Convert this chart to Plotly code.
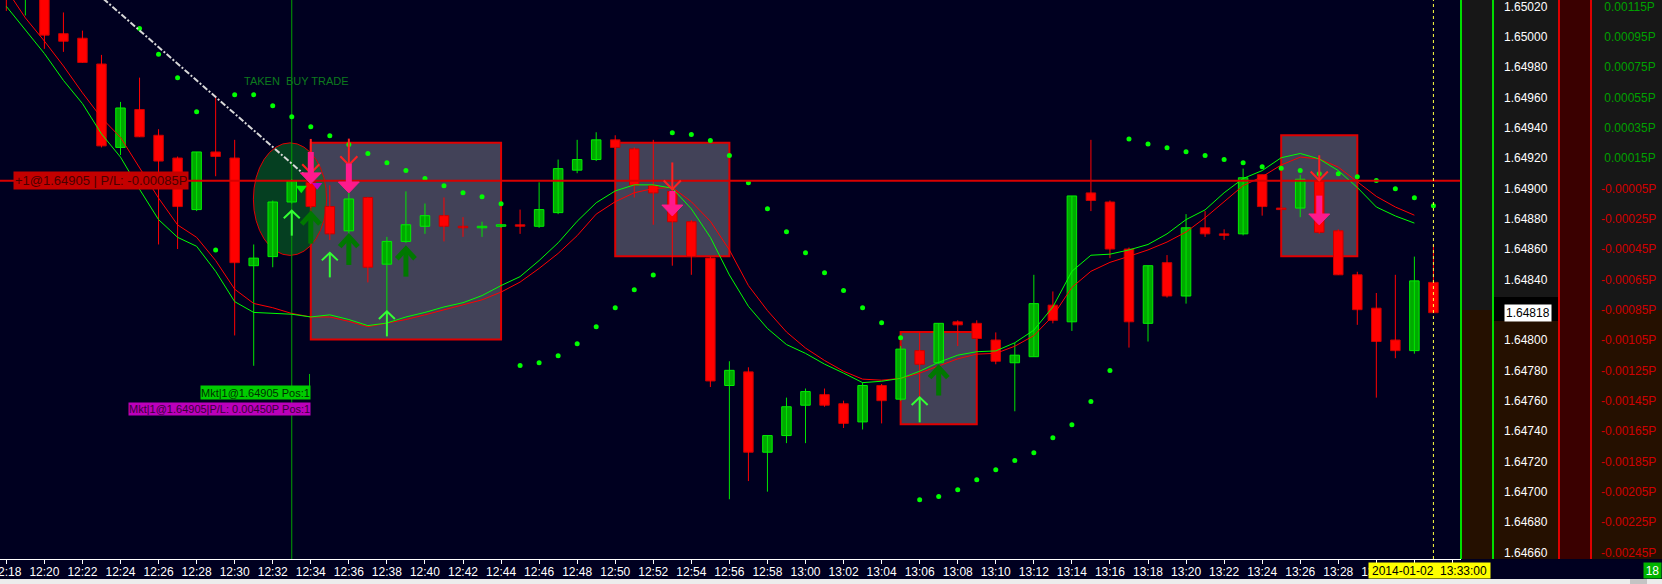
import pandas as pd
import plotly.graph_objects as go

DAY = "2014-01-02"
times = pd.date_range(f"{DAY} 12:18", periods=76, freq="min")

open_ = [1.65070, 1.65028, 1.65040, 1.65002, 1.64999, 1.64982, 1.64927, 1.64952, 1.64935, 1.64920,
         1.64886, 1.64924, 1.64920, 1.64849, 1.64855, 1.64891, 1.64904, 1.64888, 1.64872, 1.64894,
         1.64850, 1.64865, 1.64875, 1.64882, 1.64875, 1.64874, 1.64875, 1.64876, 1.64875, 1.64884,
         1.64912, 1.64919, 1.64932, 1.64926, 1.64902, 1.64898, 1.64878, 1.64854, 1.64770, 1.64779,
         1.64726, 1.64737, 1.64757, 1.64764, 1.64758, 1.64746, 1.64770, 1.64761, 1.64793, 1.64785,
         1.64812, 1.64811, 1.64800, 1.64785, 1.64789, 1.64823, 1.64812, 1.64897, 1.64891, 1.64860,
         1.64811, 1.64851, 1.64829, 1.64874, 1.64870, 1.64870, 1.64909, 1.64887, 1.64887, 1.64905,
         1.64872, 1.64843, 1.64821, 1.64800, 1.64793, 1.64838]
high = [1.65080, 1.65050, 1.65045, 1.65016, 1.65004, 1.64988, 1.64957, 1.64973, 1.64939, 1.64921,
        1.64924, 1.64961, 1.64932, 1.64863, 1.64892, 1.64906, 1.64906, 1.64902, 1.64897, 1.64894,
        1.64868, 1.64898, 1.64890, 1.64894, 1.64881, 1.64878, 1.64876, 1.64886, 1.64904, 1.64919,
        1.64932, 1.64937, 1.64935, 1.64927, 1.64932, 1.64900, 1.64879, 1.64855, 1.64786, 1.64782,
        1.64737, 1.64762, 1.64768, 1.64768, 1.64760, 1.64772, 1.64771, 1.64796, 1.64805, 1.64811,
        1.64813, 1.64813, 1.64805, 1.64798, 1.64843, 1.64832, 1.64895, 1.64932, 1.64892, 1.64861,
        1.64849, 1.64856, 1.64883, 1.64885, 1.64873, 1.64913, 1.64909, 1.64887, 1.64909, 1.64906,
        1.64873, 1.64845, 1.64831, 1.64843, 1.64855, 1.64863]
low = [1.65017, 1.65014, 1.64992, 1.64990, 1.64983, 1.64927, 1.64922, 1.64934, 1.64863, 1.64860,
       1.64885, 1.64908, 1.64803, 1.64783, 1.64848, 1.64890, 1.64887, 1.64866, 1.64870, 1.64838,
       1.64819, 1.64864, 1.64870, 1.64865, 1.64868, 1.64868, 1.64874, 1.64870, 1.64874, 1.64883,
       1.64910, 1.64918, 1.64926, 1.64894, 1.64876, 1.64849, 1.64843, 1.64769, 1.64695, 1.64707,
       1.64700, 1.64732, 1.64732, 1.64756, 1.64742, 1.64741, 1.64745, 1.64760, 1.64762, 1.64784,
       1.64796, 1.64801, 1.64784, 1.64753, 1.64789, 1.64811, 1.64806, 1.64885, 1.64854, 1.64795,
       1.64799, 1.64828, 1.64824, 1.64868, 1.64866, 1.64869, 1.64882, 1.64886, 1.64881, 1.64870,
       1.64843, 1.64810, 1.64762, 1.64788, 1.64791, 1.64818]
close = [1.65030, 1.65045, 1.65001, 1.64997, 1.64983, 1.64928, 1.64953, 1.64934, 1.64918, 1.64888,
         1.64924, 1.64921, 1.64851, 1.64854, 1.64891, 1.64905, 1.64888, 1.64870, 1.64893, 1.64848,
         1.64865, 1.64876, 1.64882, 1.64875, 1.64874, 1.64875, 1.64876, 1.64875, 1.64886, 1.64913,
         1.64919, 1.64932, 1.64927, 1.64902, 1.64897, 1.64878, 1.64855, 1.64773, 1.64780, 1.64726,
         1.64737, 1.64756, 1.64766, 1.64757, 1.64745, 1.64770, 1.64760, 1.64794, 1.64784, 1.64811,
         1.64810, 1.64801, 1.64786, 1.64790, 1.64824, 1.64813, 1.64895, 1.64892, 1.64860, 1.64812,
         1.64849, 1.64829, 1.64874, 1.64870, 1.64869, 1.64907, 1.64888, 1.64886, 1.64906, 1.64871,
         1.64843, 1.64820, 1.64799, 1.64793, 1.64839, 1.64818]

ma_fast = [1.650200, 1.650042, 1.649889, 1.649712, 1.649559, 1.649359, 1.649206, 1.648994, 1.648794, 1.648677,
           1.648618, 1.648453, 1.648253, 1.648182, 1.648175, 1.648170, 1.648152, 1.648166, 1.648135, 1.648095,
           1.648112, 1.648152, 1.648182, 1.648218, 1.648246, 1.648293, 1.648359, 1.648418, 1.648524, 1.648641,
           1.648783, 1.648905, 1.648983, 1.649023, 1.649023, 1.649001, 1.648865, 1.648677, 1.648429, 1.648222,
           1.648076, 1.647970, 1.647912, 1.647841, 1.647782, 1.647719, 1.647728, 1.647747, 1.647794, 1.647853,
           1.647900, 1.647923, 1.647928, 1.647982, 1.648065, 1.648218, 1.648453, 1.648559, 1.648566, 1.648594,
           1.648630, 1.648700, 1.648794, 1.648858, 1.648971, 1.649065, 1.649117, 1.649202, 1.649230, 1.649194,
           1.649117, 1.649006, 1.648877, 1.648818, 1.648771, None]
ma_slow = [1.650313, 1.650124, 1.649971, 1.649807, 1.649630, 1.649465, 1.649336, 1.649136, 1.648936, 1.648759,
           1.648677, 1.648524, 1.648335, 1.648241, 1.648213, 1.648175, 1.648152, 1.648152, 1.648123, 1.648088,
           1.648112, 1.648135, 1.648166, 1.648199, 1.648229, 1.648265, 1.648316, 1.648382, 1.648472, 1.648571,
           1.648688, 1.648830, 1.648912, 1.648971, 1.648999, 1.649006, 1.648912, 1.648783, 1.648594, 1.648359,
           1.648194, 1.648053, 1.647947, 1.647865, 1.647794, 1.647742, 1.647735, 1.647747, 1.647782, 1.647829,
           1.647876, 1.647907, 1.647912, 1.647959, 1.648029, 1.648159, 1.648347, 1.648453, 1.648512, 1.648552,
           1.648594, 1.648646, 1.648712, 1.648806, 1.648912, 1.649018, 1.649077, 1.649154, 1.649206, 1.649194,
           1.649140, 1.649041, 1.648947, 1.648877, 1.648823, None]
sar = [None, None, None, None, None, None, None, 1.650054, 1.649884, 1.649729,
       1.649505, 1.648594, 1.649618, 1.649618, 1.649545, 1.649472, 1.649406, 1.649347, 1.649289, 1.649230,
       1.649169, 1.649117, 1.649065, 1.649018, 1.648971, 1.648945, 1.648898, 1.647832, 1.647850, 1.647897,
       1.647975, 1.648088, 1.648213, 1.648331, 1.648429, 1.649366, 1.649355, 1.649315, 1.649216, 1.649037,
       1.648865, 1.648714, 1.648575, 1.648444, 1.648326, 1.648213, 1.648114, 1.648015, 1.646946, 1.646968,
       1.647012, 1.647078, 1.647144, 1.647205, 1.647257, 1.647356, 1.647441, 1.647594, 1.647799, 1.649326,
       1.649293, 1.649267, 1.649242, 1.649216, 1.649190, 1.649169, 1.649143, 1.649133, 1.649117, 1.649096,
       1.649096, 1.649077, 1.649051, 1.648997, 1.648938, 1.648886]

ENTRY_PRICE = 1.64905
LAST_PRICE = 1.64818
price_ticks = [1.64660, 1.64680, 1.64700, 1.64720, 1.64740, 1.64760, 1.64780, 1.64800, 1.64820, 1.64840,
               1.64860, 1.64880, 1.64900, 1.64920, 1.64940, 1.64960, 1.64980, 1.65000, 1.65020]

box_start = ["12:34", "12:50", "13:05", "13:25"]
box_end = ["12:44", "12:56", "13:09", "13:29"]
box_top = [1.649300, 1.649300, 1.648053, 1.649350]
box_bottom = [1.648004, 1.648552, 1.647445, 1.648552]

thin_down_time = ["12:34", "12:36", "12:53", "13:27"]
thin_down_tail = [1.649326, 1.649328, 1.649171, 1.649218]
thin_down_tip = [1.649101, 1.649154, 1.648994, 1.649053]
thick_down_time = ["12:34", "12:36", "12:53", "13:27"]
thick_down_tail = [1.649240, 1.649164, 1.648983, 1.648952]
thick_down_tip = [1.649030, 1.648970, 1.648818, 1.648759]
thin_up_time = ["12:33", "12:35", "12:38", "13:06"]
thin_up_tail = [1.648688, 1.648413, 1.648024, 1.647457]
thin_up_tip = [1.648853, 1.648575, 1.648189, 1.647622]
thick_up_time = ["12:34", "12:36", "12:39", "13:07"]
thick_up_tail = [1.648636, 1.648495, 1.648418, 1.647634]
thick_up_tip = [1.648829, 1.648681, 1.648601, 1.647817]

Y_RANGE = [1.646556, 1.650242]
X_RANGE = [f"{DAY} 12:17:40", f"{DAY} 13:34:27"]

FONT = "Liberation Sans, Arial, sans-serif"
BG = "#000020"
W, H = 1662, 584
PLOT_R, PLOT_B = 1461, 559


def T(hm, sec=0):
    return pd.Timestamp(f"{DAY} {hm}") + pd.Timedelta(seconds=sec)


def px(x):
    return x / PLOT_R


def py(y):
    return (PLOT_B - y) / PLOT_B


def arrows(ts, tails, tips, hw_min, hh, down):
    xs, ys = [], []
    d = pd.Timedelta(minutes=hw_min)
    s = hh if down else -hh
    for t, a, b in zip(ts, tails, tips):
        t0 = T(t)
        xs += [t0, t0, None, t0 - d, t0, t0 + d, None]
        ys += [a, b, None, b + s, b, b + s, None]
    return xs, ys


def filled_heads(ts, tips, hw_min, hh):
    xs, ys = [], []
    d = pd.Timedelta(minutes=hw_min)
    for t, b in zip(ts, tips):
        t0 = T(t)
        xs += [t0 - d, t0 + d, t0, t0 - d, None]
        ys += [b + hh, b + hh, b, b + hh, None]
    return xs, ys


fig = go.Figure()

# cursor line
fig.add_trace(go.Scatter(x=[T("12:33"), T("12:33")], y=Y_RANGE, mode="lines",
                         line=dict(color="#00a000", width=1), hoverinfo="skip"))

# wicks
gx, gy, rx, ry = [], [], [], []
for t, o, h, l, c in zip(times, open_, high, low, close):
    if c >= o:
        gx += [t, t, None]; gy += [l, h, None]
    else:
        rx += [t, t, None]; ry += [l, h, None]
fig.add_trace(go.Scatter(x=gx, y=gy, mode="lines", line=dict(color="#00e600", width=1), hoverinfo="skip"))
fig.add_trace(go.Scatter(x=rx, y=ry, mode="lines", line=dict(color="#ff0000", width=1), hoverinfo="skip"))

# bodies
base = [min(o, c) for o, c in zip(open_, close)]
height = [max(abs(c - o), 0.000003) for o, c in zip(open_, close)]
fill = ["#00aa00" if c >= o else "#ff0000" for o, c in zip(open_, close)]
edge = ["#00ee00" if c >= o else "#c80000" for o, c in zip(open_, close)]
fig.add_trace(go.Bar(x=times, y=height, base=base, width=30000,
                     marker=dict(color=fill, line=dict(color=edge, width=1)), hoverinfo="skip"))

# moving averages
fig.add_trace(go.Scatter(x=times, y=ma_slow, mode="lines", line=dict(color="#ff0000", width=1), hoverinfo="skip"))
fig.add_trace(go.Scatter(x=times, y=ma_fast, mode="lines", line=dict(color="#00ff00", width=1), hoverinfo="skip"))

# parabolic SAR
fig.add_trace(go.Scatter(x=times, y=sar, mode="markers", marker=dict(color="#00ff00", size=5), hoverinfo="skip"))

# entry line
fig.add_trace(go.Scatter(x=[pd.Timestamp(X_RANGE[0]), pd.Timestamp(X_RANGE[1])], y=[ENTRY_PRICE, ENTRY_PRICE],
                         mode="lines", line=dict(color="#d80000", width=2), hoverinfo="skip"))

# trend line
fig.add_trace(go.Scatter(x=[T("12:23", 6), T("12:33", 40)], y=[1.65025, 1.64909], mode="lines",
                         line=dict(color="#d8d8d8", width=2, dash="6px,2px,2px,2px"), hoverinfo="skip"))

# arrows
for ts, ta, tp, col, w, hw, hh, down in [
    (thin_down_time, thin_down_tail, thin_down_tip, "#ff2020", 2, 0.45, 0.000058, True),
    (thin_up_time, thin_up_tail, thin_up_tip, "#33ff33", 2, 0.42, 0.000050, False),
    (thick_up_time, thick_up_tail, thick_up_tip, "#007800", 5, 0.48, 0.000065, False),
]:
    ax_, ay_ = arrows(ts, ta, tp, hw, hh, down)
    fig.add_trace(go.Scatter(x=ax_, y=ay_, mode="lines", line=dict(color=col, width=w), hoverinfo="skip"))

# thick pink arrows: shaft + filled head
sx, sy = [], []
for t, a, b in zip(thick_down_time, thick_down_tail, thick_down_tip):
    sx += [T(t), T(t), None]
    sy += [a, b + 0.00006, None]
fig.add_trace(go.Scatter(x=sx, y=sy, mode="lines", line=dict(color="#ff1a8c", width=6), hoverinfo="skip"))
hx, hy = filled_heads(thick_down_time, thick_down_tip, 0.55, 0.000072)
fig.add_trace(go.Scatter(x=hx, y=hy, mode="lines", fill="toself", fillcolor="#ff1a8c",
                         line=dict(color="#ff1a8c", width=1), hoverinfo="skip"))

# execution markers
fig.add_trace(go.Scatter(x=[T("12:33", 30)], y=[1.64900], mode="markers",
                         marker=dict(symbol="triangle-down", color="#00ee00", size=10), hoverinfo="skip"))
fig.add_trace(go.Scatter(x=[T("12:34", 20)], y=[1.64902], mode="markers",
                         marker=dict(symbol="triangle-down", color="#c000c0", size=9), hoverinfo="skip"))

# connector line to order labels
fig.add_trace(go.Scatter(x=[T("12:34", -4), T("12:34", -4)], y=[1.647776, 1.647690], mode="lines",
                         line=dict(color="#00c000", width=1), hoverinfo="skip"))

# current time line
fig.add_trace(go.Scatter(x=[T("13:33"), T("13:33")], y=Y_RANGE, mode="lines",
                         line=dict(color="#ffff40", width=1, dash="dot"), hoverinfo="skip"))

# dummy trace for second axis
fig.add_trace(go.Scatter(x=[times[0]], y=[ENTRY_PRICE], yaxis="y2", mode="markers",
                         marker=dict(opacity=0), hoverinfo="skip"))

shapes = []
for s, e, t, b in zip(box_start, box_end, box_top, box_bottom):
    shapes.append(dict(type="rect", xref="x", yref="y", x0=T(s), x1=T(e), y0=b, y1=t,
                       fillcolor="#424258", line=dict(color="#e00000", width=2), layer="below"))
shapes.append(dict(type="circle", xref="x", yref="y", x0=T("12:30", 59), x1=T("12:34", 50),
                   y0=1.648558, y1=1.649300, fillcolor="rgba(10,115,35,0.55)",
                   line=dict(color="#e00000", width=1), layer="below"))

GRAY, BROWN, DRED = "#171717", "#251000", "#3a0000"
panels = [
    (1461, 1493, 0, 310, GRAY), (1461, 1493, 310, 559, BROWN),
    (1493, 1559, 0, 297, GRAY), (1493, 1559, 321, 559, BROWN),
    (1559, 1591, 0, 559, DRED),
    (1591, 1662, 0, 310, GRAY), (1591, 1662, 310, 559, BROWN),
    (0, 1662, 579, 584, "#ececec"), (1630, 1647, 579, 584, "#c4c4c4"),
]
for x0, x1, y0, y1, c in panels:
    shapes.append(dict(type="rect", xref="paper", yref="paper", x0=px(x0), x1=px(x1), y0=py(y1), y1=py(y0),
                       fillcolor=c, line=dict(width=0), layer="below"))
shapes.append(dict(type="rect", xref="paper", yref="paper", x0=px(1493), x1=px(1559), y0=py(321), y1=py(297),
                   fillcolor="#000000", line=dict(width=0), layer="above"))
for xx, c in [(1461, "#00dd00"), (1493, "#00dd00"), (1559, "#dd0000"), (1591, "#dd0000")]:
    shapes.append(dict(type="line", xref="paper", yref="paper", x0=px(xx), x1=px(xx), y0=py(559), y1=py(0),
                       line=dict(color=c, width=2), layer="above"))

pl_text = []
for v in price_ticks:
    d = v - ENTRY_PRICE
    if d > 0:
        pl_text.append(f'<span style="color:#00a000">\u00a0{d:.5f}P</span>')
    else:
        pl_text.append(f'<span style="color:#d00000">{d:.5f}P</span>')

annotations = [
    dict(xref="paper", yref="y", x=px(13), y=ENTRY_PRICE, xanchor="left", yanchor="middle",
         text="+1@1.64905 | P/L: -0.00085P", showarrow=False, bgcolor="#c40000",
         font=dict(family=FONT, size=13, color="#4a0000"), borderpad=1, height=15),
    dict(xref="x", yref="y", x=T("12:33", 15), y=1.649705, text="TAKEN  BUY TRADE", showarrow=False,
         font=dict(family=FONT, size=11, color="#0d7a1d")),
    dict(xref="x", yref="y", x=T("12:34"), y=1.647653, xanchor="right", text="Mkt|1@1.64905 Pos:1",
         showarrow=False, bgcolor="#00cc00", font=dict(family=FONT, size=11, color="#003000"),
         borderpad=0, height=13),
    dict(xref="x", yref="y", x=T("12:34"), y=1.647543, xanchor="right",
         text="Mkt|1@1.64905|P/L: 0.00450P Pos:1", showarrow=False, bgcolor="#bb00bb",
         font=dict(family=FONT, size=11, color="#3a003a"), borderpad=0, height=12),
    dict(xref="paper", yref="y", x=px(1504), y=LAST_PRICE, xanchor="left", text=f"{LAST_PRICE:.5f}",
         showarrow=False, bgcolor="#ffffff", font=dict(family=FONT, size=12, color="#000000"),
         borderpad=1, height=14),
    dict(xref="paper", yref="paper", x=px(1368), y=py(570.5), xanchor="left", yanchor="middle",
         text="2014-01-02\u00a0\u00a013:33:00", showarrow=False, bgcolor="#ffff00",
         font=dict(family=FONT, size=12, color="#000000"), width=121, height=15, borderpad=0),
    dict(xref="paper", yref="paper", x=px(1662), y=py(570.5), xanchor="right", yanchor="middle",
         text="18", showarrow=False, bgcolor="#00b400", font=dict(family=FONT, size=12, color="#ffffff"),
         width=17, height=15, borderpad=0),
]

fig.update_layout(
    width=W, height=H, autosize=False,
    margin=dict(l=0, r=W - PLOT_R, t=0, b=H - PLOT_B, pad=0, autoexpand=False),
    paper_bgcolor=BG, plot_bgcolor=BG,
    showlegend=False, barmode="overlay", hovermode=False,
    font=dict(family=FONT, color="#ffffff", size=12),
    xaxis=dict(type="date", range=X_RANGE, tickformat="%H:%M", dtick=120000, tick0=f"{DAY} 12:18",
               showgrid=False, zeroline=False, showline=True, linecolor="#ffffff", linewidth=1,
               ticks="outside", ticklen=4, tickcolor="#ffffff", tickfont=dict(color="#ffffff", size=12),
               ticklabelstandoff=-2, ticklabeloverflow="allow", automargin=False, fixedrange=True),
    yaxis=dict(range=Y_RANGE, side="right", tickvals=price_ticks,
               ticktext=[f"{v:.5f}" for v in price_ticks], showgrid=False, zeroline=False,
               showline=False, ticks="", tickfont=dict(color="#ffffff", size=12), ticklabelstandoff=42,
               ticklabeloverflow="allow", automargin=False),
    yaxis2=dict(range=Y_RANGE, side="right", overlaying="y", anchor="x", tickvals=price_ticks,
                ticktext=pl_text, showgrid=False, zeroline=False, showline=False, ticks="",
                tickfont=dict(color="#d00000", size=12), ticklabelstandoff=139,
                ticklabeloverflow="allow", automargin=False),
    shapes=shapes, annotations=annotations,
)

fig.write_html("out.html", config={"displayModeBar": False},
               post_script="document.body.style.margin='0';document.body.style.overflow='hidden';")
